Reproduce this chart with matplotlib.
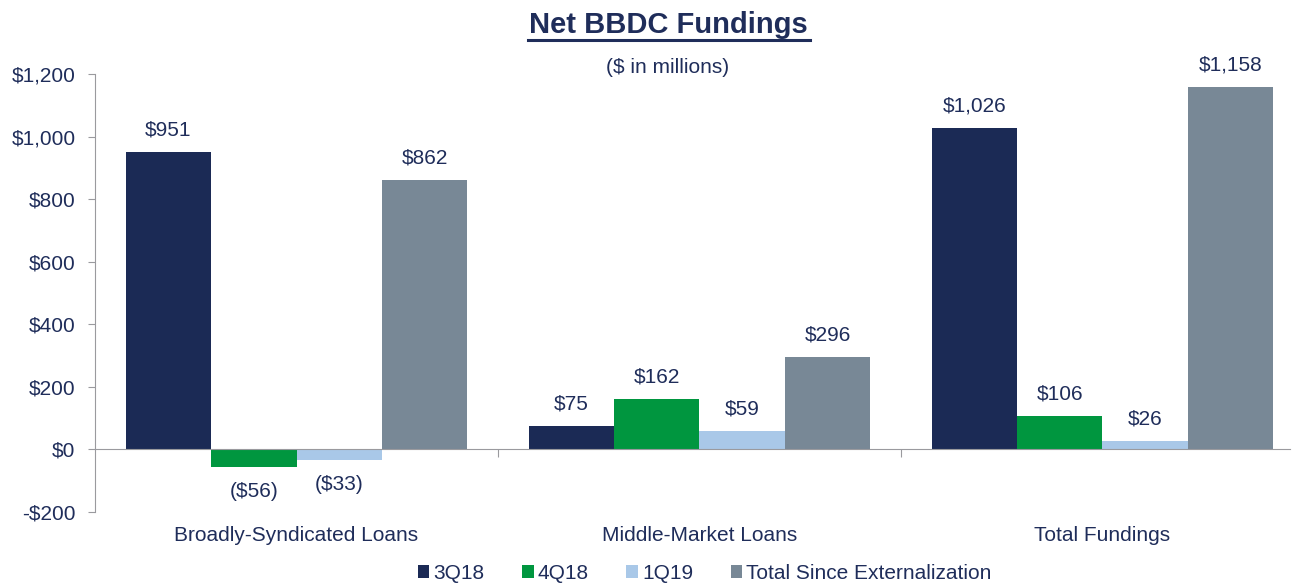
import numpy as np
from matplotlib import pyplot as plt

categories = ['Broadly-Syndicated Loans', 'Middle-Market Loans', 'Total Fundings']
series = ['3Q18', '4Q18', '1Q19', 'Total Since Externalization']
values = {
    '3Q18': [951, 75, 1026],
    '4Q18': [-56, 162, 106],
    '1Q19': [-33, 59, 26],
    'Total Since Externalization': [862, 296, 1158],
}
colors = ['#1B2A55', '#00963F', '#A9C8E8', '#788896']
txt = '#1F2D5A'
axc = '#9A9A9E'

plt.rcParams['font.family'] = ['Liberation Sans', 'DejaVu Sans']

fig = plt.figure(figsize=(12.93, 5.84), dpi=100)
ax = fig.add_axes([0.0735, 0.1233, 0.924, 0.75])

x = np.arange(len(categories))
w = 0.212
for i, s in enumerate(series):
    pos = x + (i - 1.5) * w
    ax.bar(pos, values[s], w, color=colors[i], label=s, zorder=2)
    for p, v in zip(pos, values[s]):
        if v >= 0:
            ax.text(p, v + 40, f'${v:,}', ha='center', va='bottom', fontsize=15, color=txt)
        else:
            ax.text(p, v - 78, f'(${-v:,})', ha='center', va='center', fontsize=15, color=txt)

ax.set_xlim(-0.5, 2.465)
ax.set_ylim(-200, 1200)
ticks = list(range(-200, 1201, 200))
ax.set_yticks(ticks)
ax.set_yticklabels([f'${t:,}' if t >= 0 else f'-${-t:,}' for t in ticks], fontsize=15, color=txt)
ax.tick_params(axis='y', colors=axc, labelcolor=txt, length=5, direction='out', pad=9)

for sp in ['top', 'right']:
    ax.spines[sp].set_visible(False)
ax.spines['left'].set_color(axc)
ax.spines['bottom'].set_color(axc)
ax.spines['bottom'].set_position(('data', 0))
ax.set_xticks([0.5, 1.5])
ax.set_xticklabels([])
ax.tick_params(axis='x', colors=axc, length=6, direction='out')

for xi, c in zip(x, categories):
    ax.text(xi, -275, c, ha='center', va='center', fontsize=15, color=txt)

fig.text(0.5166, 0.957, 'Net BBDC Fundings', ha='center', va='center', fontsize=21,
         fontweight='bold', color=txt)
fig.add_artist(plt.Line2D([0.4083, 0.6265], [0.9315, 0.9315], color=txt, lw=2.2))
fig.text(0.5166, 0.884, '($ in millions)', ha='center', va='center', fontsize=15, color=txt)

leg = fig.legend(loc='lower center', bbox_to_anchor=(0.545, -0.03), ncol=4, frameon=False,
                 fontsize=15, handlelength=0.55, handleheight=0.55, handletextpad=0.2,
                 columnspacing=1.8)
for t in leg.get_texts():
    t.set_color(txt)

fig.savefig('out.png', dpi=100)
